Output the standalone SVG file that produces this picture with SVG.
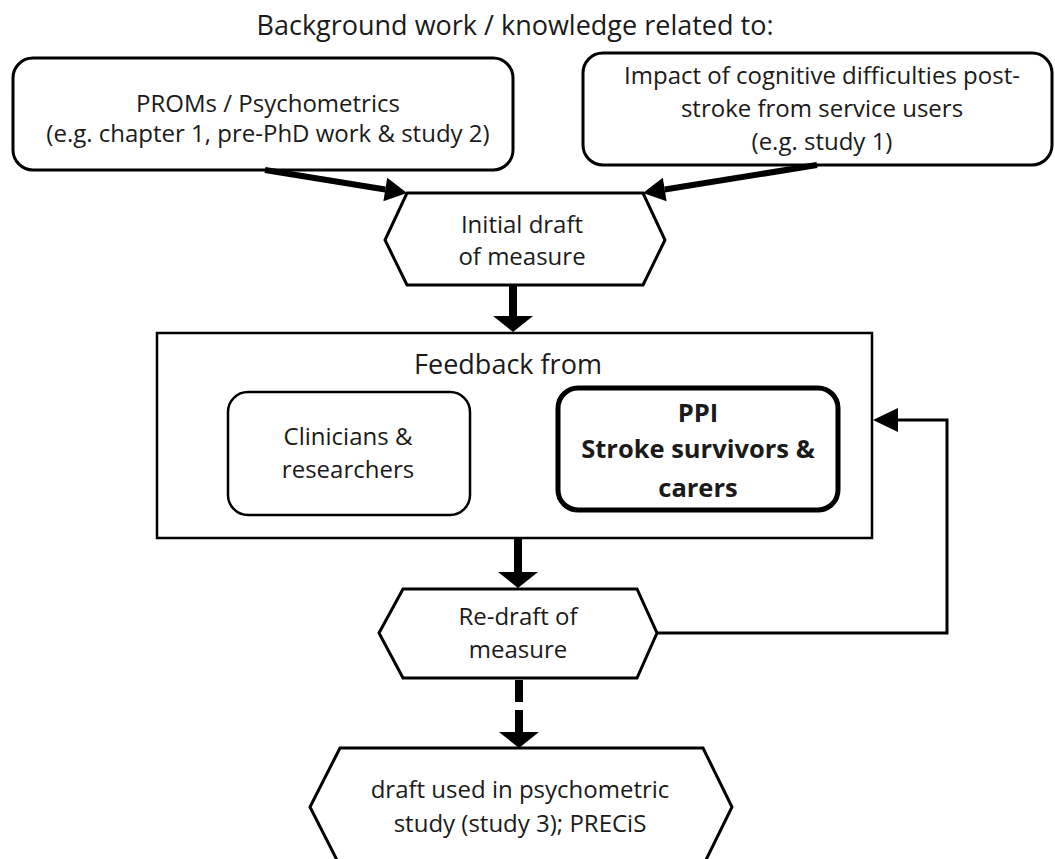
<svg xmlns="http://www.w3.org/2000/svg" width="1055" height="859" viewBox="0 0 1055 859">
<style>
text{font-family:"Open Sans",Lato,"DejaVu Sans",sans-serif;font-size:24px;fill:#1a1a1a;text-anchor:middle}
.lg{font-size:27px}
.b{font-weight:bold;font-size:25.5px}
.box{fill:#fff;stroke:#000}
.conn{fill:none;stroke:#000}
</style>
<defs>
<marker id="hd" markerUnits="userSpaceOnUse" markerWidth="22" markerHeight="24" refX="0" refY="12" orient="auto" overflow="visible"><path d="M0,0 L22,12 L0,24 Z" fill="#000"/></marker>
<marker id="hv" markerUnits="userSpaceOnUse" markerWidth="16" markerHeight="40" refX="0" refY="20" orient="auto" overflow="visible"><path d="M0,0 L16,20 L0,40 Z" fill="#000"/></marker>
<marker id="hf" markerUnits="userSpaceOnUse" markerWidth="25" markerHeight="24" refX="0" refY="12" orient="auto" overflow="visible"><path d="M0,0 L25,12 L0,24 Z" fill="#000"/></marker>
</defs>
<rect width="1055" height="859" fill="#fff"/>
<text class="lg" x="515" y="35" font-size="27.5">Background work / knowledge related to:</text>
<g id="proms">
<rect class="box" x="13" y="58" width="500" height="112" rx="20" stroke-width="3"/>
<text x="268" y="112">PROMs / Psychometrics</text>
<text x="268" y="142">(e.g. chapter 1, pre-PhD work &amp; study 2)</text>
</g>
<g id="impact">
<rect class="box" x="583" y="53" width="469" height="112" rx="20" stroke-width="3"/>
<text x="822" y="84">Impact of cognitive difficulties post-</text>
<text x="822" y="117">stroke from service users</text>
<text x="822" y="150">(e.g. study 1)</text>
</g>
<g id="initial">
<polygon class="box" points="407,193 643,193 665,240 643,285 407,285 385,240" stroke-width="3"/>
<text x="522" y="233">Initial draft</text>
<text x="522" y="265">of measure</text>
</g>
<g id="feedback">
<rect class="box" x="157" y="333" width="715" height="205" stroke-width="2.5"/>
<text class="lg" x="508" y="374">Feedback from</text>
</g>
<g id="clinicians">
<rect class="box" x="228" y="392" width="242" height="123" rx="20" stroke-width="2.5"/>
<text x="348" y="445">Clinicians &amp;</text>
<text x="348" y="478">researchers</text>
</g>
<g id="ppi">
<rect class="box" x="558" y="388" width="280" height="122" rx="20" stroke-width="5"/>
<text class="b" x="698" y="422">PPI</text>
<text class="b" x="698" y="458">Stroke survivors &amp;</text>
<text class="b" x="698" y="497">carers</text>
</g>
<g id="redraft">
<polygon class="box" points="403,589 637,589 657,633 637,678 403,678 379,633" stroke-width="3"/>
<text x="518" y="625">Re-draft of</text>
<text x="518" y="658">measure</text>
</g>
<g id="final">
<polygon class="box" points="340,748 703,748 732,807 703,866 340,866 310,807" stroke-width="3"/>
<text x="520" y="798">draft used in psychometric</text>
<text x="520" y="832">study (study 3); PRECiS</text>
</g>
<g id="connectors">
<line class="conn" x1="265" y1="170" x2="385.3" y2="189.5" stroke-width="6" marker-end="url(#hd)"/>
<line class="conn" x1="817" y1="165" x2="664.7" y2="189.5" stroke-width="6" marker-end="url(#hd)"/>
<line class="conn" x1="513" y1="286" x2="513" y2="316" stroke-width="8" marker-end="url(#hv)"/>
<line class="conn" x1="518" y1="539" x2="518" y2="572" stroke-width="8" marker-end="url(#hv)"/>
<line class="conn" x1="519" y1="680" x2="519" y2="732" stroke-width="8" stroke-dasharray="22 8" marker-end="url(#hv)"/>
<path class="conn" d="M657,633 H947 V420 H898" stroke-width="3" marker-end="url(#hf)"/>
</g>
</svg>
